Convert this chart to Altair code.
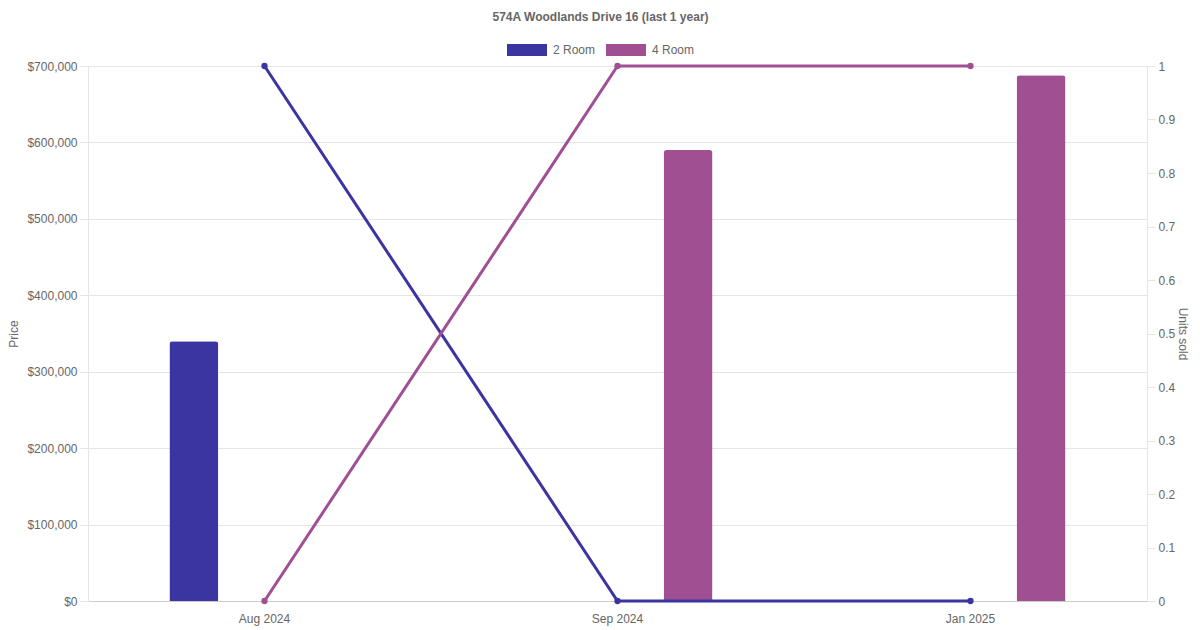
import altair as alt
import pandas as pd

months = ["Aug 2024", "Sep 2024", "Jan 2025"]
room_types = ["2 Room", "4 Room"]
price_2room = [340000, None, None]
price_4room = [None, 590000, 688000]
units_2room = [1, 0, 0]
units_4room = [0, 1, 1]
colors = ["#3a35a0", "#a05092"]

rows_bar = []
rows_line = []
for i, m in enumerate(months):
    for rt, prices, units in [("2 Room", price_2room, units_2room), ("4 Room", price_4room, units_4room)]:
        if prices[i] is not None:
            rows_bar.append({"month": m, "type": rt, "price": prices[i]})
        rows_line.append({"month": m, "type": rt, "units": units[i]})
bar_df = pd.DataFrame(rows_bar)
line_df = pd.DataFrame(rows_line)

FONT = "Liberation Sans"
GREY = "#666666"
GRID = "#e5e5e5"

legend = alt.Legend(
    title=None, orient="none", direction="horizontal", legendX=419, legendY=-36,
    symbolType="M-1,-0.3H1V0.3H-1Z", symbolSize=1600, symbolStrokeWidth=0,
    labelFontSize=12, labelColor=GREY, labelFont=FONT, labelOffset=6, columnPadding=10,
)
color = alt.Color("type:N", scale=alt.Scale(domain=room_types, range=colors), legend=legend)

x = alt.X("month:N", sort=months, title=None,
          scale=alt.Scale(domain=months, paddingInner=0, paddingOuter=0),
          axis=alt.Axis(labelAngle=0, ticks=False, labelPadding=12, domainColor="#cccccc",
                        labelColor=GREY, labelFontSize=12, labelFont=FONT, grid=False))

bars = alt.Chart(bar_df).mark_bar(width=49, cornerRadiusTopLeft=3, cornerRadiusTopRight=3).encode(
    x=x,
    xOffset=alt.XOffset("type:N", scale=alt.Scale(domain=room_types, paddingInner=0, paddingOuter=0.25)),
    y=alt.Y("price:Q", title="Price", scale=alt.Scale(domain=[0, 700000], nice=False),
            axis=alt.Axis(values=list(range(0, 700001, 100000)), format="$,.0f", grid=True,
                          gridColor=GRID, domainColor=GRID, tickColor=GRID, tickSize=8,
                          labelColor=GREY, labelFontSize=12, labelFont=FONT, labelPadding=3,
                          titleColor=GREY, titleFont=FONT, titleFontSize=12, titleFontWeight="normal",
                          titlePadding=6)),
    color=color,
)

lines = alt.Chart(line_df).mark_line(strokeWidth=3, point=alt.OverlayMarkDef(size=40, filled=True, opacity=1)).encode(
    x=x,
    y=alt.Y("units:Q", title="Units sold", scale=alt.Scale(domain=[0, 1], nice=False),
            axis=alt.Axis(orient="right", values=[i / 10 for i in range(11)], format="~g", grid=False,
                          domainColor=GRID, tickColor=GRID, tickSize=8,
                          labelColor=GREY, labelFontSize=12, labelFont=FONT, labelPadding=3,
                          titleColor=GREY, titleFont=FONT, titleFontSize=12, titleFontWeight="normal",
                          titlePadding=1)),
    color=color,
)

chart = alt.layer(bars, lines).resolve_scale(y="independent").properties(
    width=1059, height=535,
    title=alt.TitleParams("574A Woodlands Drive 16 (last 1 year)", font=FONT, fontSize=12,
                          fontWeight="bold", color=GREY, anchor="middle", dx=-17, offset=6),
    autosize=alt.AutoSizeParams(type="none"),
    padding={"left": 80, "top": 58, "right": 45, "bottom": 28},
).configure_view(stroke=None)

chart.save("out.html", embed_options={"renderer": "svg", "actions": False})
